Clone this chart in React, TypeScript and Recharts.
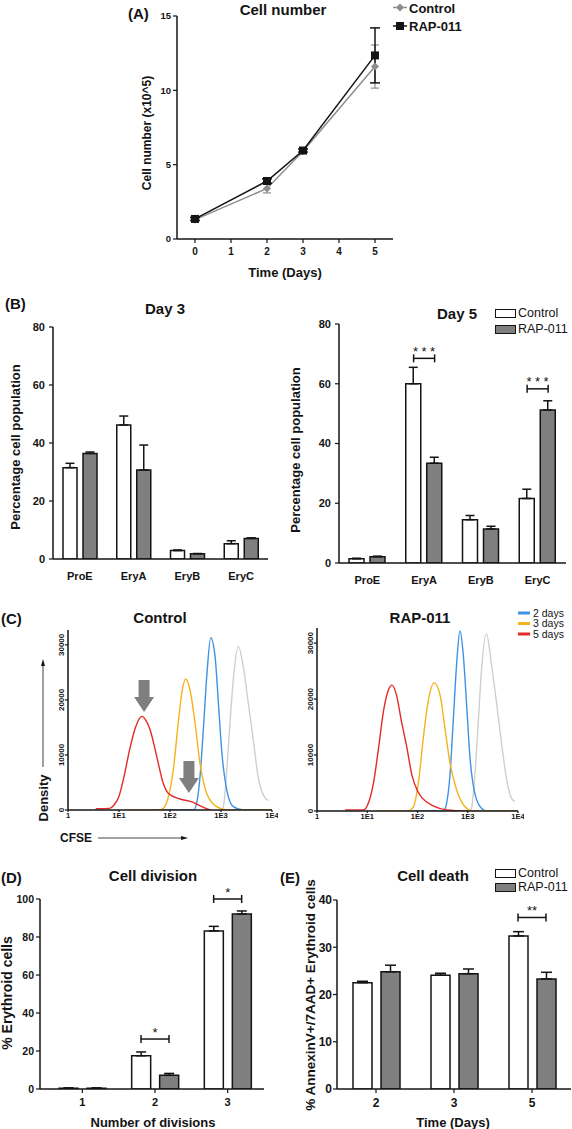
import React from "react";
import {
  LineChart,
  Line,
  BarChart,
  Bar,
  XAxis,
  YAxis,
  ErrorBar,
  ReferenceLine,
  ReferenceDot,
} from "recharts";

const INK = "#141414";
const GREY_BAR = "#7f7f7f";
const CTRL_LINE = "#8d8d8d";
const FONT = '"Liberation Sans", Arial, Helvetica, sans-serif';

// (A) cell number (x10^5)
const growthDays = [0, 2, 3, 5];
const growthControl = [1.3, 3.4, 5.9, 11.6];
const growthControlErr = [0.1, 0.3, 0.1, 1.45];
const growthRap = [1.35, 3.9, 5.95, 12.35];
const growthRapErr = [0.1, 0.15, 0.1, 1.85];

// (B) erythroid stages
const stages = ["ProE", "EryA", "EryB", "EryC"];
const day3Control = [31.5, 46.2, 2.9, 5.3];
const day3ControlErr = [1.5, 3.1, 0.2, 1.0];
const day3Rap = [36.4, 30.7, 1.8, 7.1];
const day3RapErr = [0.5, 8.6, 0.1, 0.2];
const day5Control = [1.4, 60.0, 14.5, 21.6];
const day5ControlErr = [0.2, 5.5, 1.4, 3.1];
const day5Rap = [2.1, 33.4, 11.4, 51.2];
const day5RapErr = [0.2, 2.0, 0.9, 3.1];
const day5Sig = [
  { cat: "EryA", y: 68.5, mark: "***" },
  { cat: "EryC", y: 58.3, mark: "***" },
];

// (C) CFSE histograms, [CFSE, density]
const ctlDay0 = [[1000, 0], [1110, 600], [1300, 7300], [1500, 15800], [1740, 23600], [2180, 29700], [2740, 26000], [3430, 19400], [4300, 12700], [5350, 6000], [6760, 2700], [8480, 1700]];
const ctlDay2 = [[55, 0], [290, 0], [333, 1200], [387, 6000], [450, 14500], [525, 24200], [630, 31300], [765, 27900], [890, 19400], [1030, 10900], [1300, 3600], [1740, 600], [2740, 0], [10000, 0]];
const ctlDay3 = [[15, 0], [60, 0], [74, 300], [93, 2400], [116, 7300], [145, 15800], [170, 21200], [203, 23800], [247, 21800], [310, 15800], [387, 8500], [525, 3000], [825, 600], [1300, 0], [10000, 0]];
const ctlDay5 = [[3.5, 250], [6.5, 300], [8, 900], [10, 2500], [12.5, 6000], [16, 10800], [21, 15000], [28, 17000], [35, 16000], [41, 14500], [55, 9700], [74, 4800], [93, 3000], [157, 2000], [287, 1400], [420, 600], [610, 0]];
const rapDay0 = [[1100, 0], [1190, 500], [1380, 6200], [1620, 15900], [1870, 25000], [2350, 31700], [2960, 26200], [3710, 19600], [4680, 12300], [5890, 5800], [7420, 2300], [8600, 1700]];
const rapDay2 = [[83, 0], [330, 0], [380, 1400], [441, 6200], [513, 15900], [600, 26200], [700, 32200], [813, 28000], [950, 19000], [1100, 9900], [1380, 3200], [1870, 500], [2400, 0], [10000, 0]];
const rapDay3 = [[15.5, 0], [65, 0], [83, 800], [104, 5000], [130, 12900], [163, 19600], [215, 22900], [280, 20800], [353, 14700], [441, 8700], [600, 3800], [875, 800], [1260, 0], [10000, 0]];
const rapDay5 = [[3.6, 200], [8.4, 200], [10.5, 1400], [13.3, 5000], [16.7, 11100], [21, 17800], [26, 21500], [31, 22500], [38, 20800], [48, 16000], [61, 11500], [77, 6500], [100, 3600], [125, 2300], [205, 900], [380, 200], [1000, 0]];
const cfseTicks = [1, 10, 100, 1000, 10000];
const densityTicks = [0, 10000, 20000, 30000];
const ctlArrowX = [31, 235];
const ctlArrowY = [17800, 3100];

// (D) cell division
const divisions = ["1", "2", "3"];
const divControl = [0.4, 17.5, 83.2];
const divControlErr = [0.2, 2.0, 2.4];
const divRap = [0.4, 7.2, 92.1];
const divRapErr = [0.2, 1.0, 1.6];
const divSig = [
  { cat: "2", y: 26.3, mark: "*" },
  { cat: "3", y: 100, mark: "*" },
];

// (E) cell death
const deathDays = ["2", "3", "5"];
const deathControl = [22.5, 24.1, 32.4];
const deathControlErr = [0.3, 0.4, 0.9];
const deathRap = [24.8, 24.4, 23.3];
const deathRapErr = [1.4, 1.0, 1.4];
const deathSig = [{ cat: "5", y: 36.3, mark: "**" }];

const COLORS = { day0: "#cfcfcf", day2: "#3d93e4", day3: "#f5b21a", day5: "#e52a27" };

function Txt({ x, y, size = 13, bold = true, rotate = 0, align = "center", children }: any) {
  const tx = align === "left" ? "0" : align === "right" ? "-100%" : "-50%";
  return (
    <div
      style={{
        position: "absolute",
        left: x,
        top: y,
        transform: `translate(${tx}, -50%) rotate(${rotate}deg)`,
        fontSize: size,
        fontWeight: bold ? 700 : 400,
        lineHeight: 1,
        whiteSpace: "nowrap",
        color: INK,
      }}
    >
      {children}
    </div>
  );
}

const axisLine = { stroke: INK, strokeWidth: 1.5 };
const tickLine = { stroke: INK, strokeWidth: 1.2 };

const DiamondDot = (props: any) => {
  const { cx, cy } = props;
  if (cx == null || cy == null) return null;
  return <path d={`M${cx},${cy - 4}L${cx + 4},${cy}L${cx},${cy + 4}L${cx - 4},${cy}Z`} fill={CTRL_LINE} />;
};

const SquareDot = (props: any) => {
  const { cx, cy } = props;
  if (cx == null || cy == null) return null;
  return <rect x={cx - 4} y={cy - 4} width={8} height={8} fill={INK} />;
};

function GrowthPanel() {
  const x0 = 177, x1 = 393, y0 = 16, y1 = 239, yw = 36, xh = 30, mt = 6, mr = 8;
  const data = growthDays.map((d, i) => ({
    day: d,
    ctl: growthControl[i],
    ctlErr: growthControlErr[i],
    rap: growthRap[i],
    rapErr: growthRapErr[i],
  }));
  return (
    <div style={{ position: "absolute", left: x0 - yw, top: y0 - mt }}>
      <LineChart
        width={x1 - x0 + yw + mr}
        height={y1 - y0 + mt + xh}
        data={data}
        margin={{ top: mt, right: mr, bottom: 0, left: 0 }}
      >
        <XAxis
          dataKey="day"
          type="number"
          domain={[-0.5, 5.5]}
          ticks={[0, 1, 2, 3, 4, 5]}
          allowDataOverflow
          height={xh}
          axisLine={axisLine}
          tickLine={tickLine}
          tickSize={4}
          tickMargin={5}
          tick={{ fill: INK, fontSize: 10, fontWeight: 700 }}
        />
        <YAxis
          domain={[0, 15]}
          ticks={[0, 5, 10, 15]}
          allowDataOverflow
          width={yw}
          axisLine={axisLine}
          tickLine={tickLine}
          tickSize={4}
          tickMargin={2}
          tick={{ fill: INK, fontSize: 9.5, fontWeight: 700 }}
        />
        <Line dataKey="ctl" type="linear" stroke={CTRL_LINE} strokeWidth={1.5} dot={<DiamondDot />} isAnimationActive={false}>
          <ErrorBar dataKey="ctlErr" width={4} stroke={CTRL_LINE} strokeWidth={1.2} direction="y" />
        </Line>
        <Line dataKey="rap" type="linear" stroke={INK} strokeWidth={1.5} dot={<SquareDot />} isAnimationActive={false}>
          <ErrorBar dataKey="rapErr" width={5} stroke={INK} strokeWidth={1.5} direction="y" />
        </Line>
      </LineChart>
    </div>
  );
}

// significance bracket drawn around the band centre of the category it is attached to
const bracketShape = (half: number, mark: string) => (props: any) => {
  const { x1, y1 } = props;
  if (x1 == null || y1 == null) return <g />;
  const l = x1 - half;
  const r = x1 + half;
  return (
    <g>
      <line x1={l} y1={y1} x2={r} y2={y1} stroke={INK} strokeWidth={1.5} />
      <line x1={l} y1={y1 - 4} x2={l} y2={y1 + 4} stroke={INK} strokeWidth={1.5} />
      <line x1={r} y1={y1 - 4} x2={r} y2={y1 + 4} stroke={INK} strokeWidth={1.5} />
      <text
        x={x1 + (mark.length > 2 ? 1.7 : 0)}
        y={y1 - 2.5}
        textAnchor="middle"
        fontSize={13}
        letterSpacing={mark.length > 2 ? 3.5 : 0}
        fill={INK}
      >
        {mark}
      </text>
    </g>
  );
};

function BarPanel(p: any) {
  const { x0, x1, y0, y1, yMax, yTicks, yw, barSize, barGap, padLeft, capW, tickFont, catFont, catTicks } = p;
  const xh = 30, mt = 30, mr = 2;
  const data = p.cats.map((c: string, i: number) => ({
    cat: c,
    ctl: p.ctl[i],
    ctlErr: [0, p.ctlErr[i]],
    rap: p.rap[i],
    rapErr: [0, p.rapErr[i]],
  }));
  const half = (barSize + barGap) / 2;
  return (
    <div style={{ position: "absolute", left: x0 - yw, top: y0 - mt }}>
      <BarChart
        width={x1 - x0 + yw + mr}
        height={y1 - y0 + mt + xh}
        data={data}
        margin={{ top: mt, right: mr, bottom: 0, left: 0 }}
        barSize={barSize}
        barGap={barGap}
      >
        <XAxis
          dataKey="cat"
          height={xh}
          padding={{ left: padLeft, right: 0 }}
          axisLine={axisLine}
          tickLine={catTicks ? tickLine : false}
          tickSize={4}
          tickMargin={catTicks ? 5 : 9}
          tick={{ fill: INK, fontSize: catFont, fontWeight: 700 }}
        />
        <YAxis
          domain={[0, yMax]}
          ticks={yTicks}
          allowDataOverflow
          width={yw}
          axisLine={axisLine}
          tickLine={tickLine}
          tickSize={4}
          tickMargin={p.tickMargin}
          tick={{ fill: INK, fontSize: tickFont, fontWeight: 700 }}
        />
        <Bar dataKey="ctl" fill="#ffffff" stroke={INK} strokeWidth={1.5} isAnimationActive={false}>
          <ErrorBar dataKey="ctlErr" width={capW} stroke={INK} strokeWidth={1.5} direction="y" />
        </Bar>
        <Bar dataKey="rap" fill={GREY_BAR} stroke={INK} strokeWidth={1.5} isAnimationActive={false}>
          <ErrorBar dataKey="rapErr" width={capW} stroke={INK} strokeWidth={1.5} direction="y" />
        </Bar>
        {p.sig.map((s: any, i: number) => (
          <ReferenceLine
            key={`sig${i}`}
            segment={[{ x: s.cat, y: s.y }, { x: s.cat, y: s.y }]}
            ifOverflow="visible"
            shape={bracketShape(half, s.mark)}
          />
        ))}
      </BarChart>
    </div>
  );
}

const DensityTick = (props: any) => {
  const { x, y, payload } = props;
  return (
    <text x={x} y={y} transform={`rotate(-90 ${x} ${y})`} textAnchor="middle" fontSize={8} fontWeight={700} fill={INK}>
      {payload.value}
    </text>
  );
};

const cfseLabel = (v: number) => (v === 1 ? "1" : "1E" + Math.round(Math.log10(v)));

const ArrowShape = (props: any) => {
  const { cx, cy } = props;
  if (cx == null || cy == null) return <g />;
  const d = `M${cx - 5.5},${cy - 32}L${cx + 5.5},${cy - 32}L${cx + 5.5},${cy - 15}L${cx + 10},${cy - 15}L${cx},${cy}L${cx - 10},${cy - 15}L${cx - 5.5},${cy - 15}Z`;
  return <path d={d} fill={GREY_BAR} />;
};

function HistPanel({ x0, x1, y0, y1, traces, arrows }: any) {
  const yw = 30, xh = 20, mt = 4, mr = 6;
  return (
    <div style={{ position: "absolute", left: x0 - yw, top: y0 - mt }}>
      <LineChart width={x1 - x0 + yw + mr} height={y1 - y0 + mt + xh} margin={{ top: mt, right: mr, bottom: 0, left: 0 }}>
        <XAxis
          dataKey="x"
          type="number"
          scale="log"
          domain={[1, 10000]}
          ticks={cfseTicks}
          tickFormatter={cfseLabel}
          allowDataOverflow
          height={xh}
          axisLine={axisLine}
          tickLine={tickLine}
          tickSize={2}
          tickMargin={1}
          tick={{ fill: INK, fontSize: 7.5, fontWeight: 700 }}
        />
        <YAxis
          type="number"
          domain={[0, 32700]}
          ticks={densityTicks}
          allowDataOverflow
          width={yw}
          axisLine={axisLine}
          tickLine={tickLine}
          tickSize={3}
          tickMargin={1}
          tick={<DensityTick />}
        />
        {traces.map((t: any, i: number) => (
          <Line
            key={i}
            data={t.points.map(([x, y]: number[]) => ({ x, y }))}
            dataKey="y"
            type="monotone"
            stroke={t.color}
            strokeWidth={1.4}
            dot={false}
            isAnimationActive={false}
          />
        ))}
        {arrows &&
          arrows.x.map((x: number, i: number) => (
            <ReferenceDot key={`a${i}`} x={x} y={arrows.y[i]} r={0} ifOverflow="visible" shape={ArrowShape} />
          ))}
      </LineChart>
    </div>
  );
}

function LegendBoxes({ x, y1, y2, textX, size }: any) {
  return (
    <>
      <div style={{ position: "absolute", left: x, top: y1 - 4, width: 19, height: 7, border: `1px solid ${INK}`, background: "#fff" }} />
      <div style={{ position: "absolute", left: x, top: y2 - 4, width: 19, height: 7, border: `1px solid ${INK}`, background: GREY_BAR }} />
      <Txt x={textX} y={y1} size={size} bold={false} align="left">Control</Txt>
      <Txt x={textX} y={y2} size={size} bold={false} align="left">RAP-011</Txt>
    </>
  );
}

export default function App() {
  const ctlTraces = [
    { points: ctlDay0, color: COLORS.day0 },
    { points: ctlDay2, color: COLORS.day2 },
    { points: ctlDay3, color: COLORS.day3 },
    { points: ctlDay5, color: COLORS.day5 },
  ];
  const rapTraces = [
    { points: rapDay0, color: COLORS.day0 },
    { points: rapDay2, color: COLORS.day2 },
    { points: rapDay3, color: COLORS.day3 },
    { points: rapDay5, color: COLORS.day5 },
  ];
  return (
    <div
      style={{
        position: "absolute",
        left: 0,
        top: 0,
        width: 572,
        height: 1129,
        background: "#fff",
        fontFamily: FONT,
        color: INK,
        overflow: "hidden",
      }}
    >
      {/* (A) */}
      <Txt x={128} y={13} size={15} align="left">(A)</Txt>
      <Txt x={283} y={9} size={15}>Cell number</Txt>
      <svg style={{ position: "absolute", left: 392, top: 0 }} width={16} height={34}>
        <line x1={1} y1={7.5} x2={15} y2={7.5} stroke={CTRL_LINE} strokeWidth={1.5} />
        <path d="M8,3.5L12,7.5L8,11.5L4,7.5Z" fill={CTRL_LINE} />
        <line x1={1} y1={26} x2={15} y2={26} stroke={INK} strokeWidth={1.5} />
        <rect x={4} y={22} width={8} height={8} fill={INK} />
      </svg>
      <Txt x={409} y={7.5} size={13} align="left">Control</Txt>
      <Txt x={409} y={26} size={13} align="left">RAP-011</Txt>
      <Txt x={147} y={133} size={12} rotate={-90}>Cell number (x10^5)</Txt>
      <Txt x={285} y={272} size={13}>Time (Days)</Txt>
      <GrowthPanel />

      {/* (B) */}
      <Txt x={5} y={303} size={15} align="left">(B)</Txt>
      <Txt x={165} y={308} size={15}>Day 3</Txt>
      <Txt x={457} y={313} size={15}>Day 5</Txt>
      <Txt x={15} y={447} size={13} rotate={-90}>Percentage cell population</Txt>
      <Txt x={295} y={450} size={13} rotate={-90}>Percentage cell population</Txt>
      <LegendBoxes x={495} y1={313} y2={329} textX={518} size={12.5} />
      <BarPanel
        cats={stages}
        ctl={day3Control}
        ctlErr={day3ControlErr}
        rap={day3Rap}
        rapErr={day3RapErr}
        sig={[]}
        x0={53}
        x1={268}
        y0={327}
        y1={559}
        yMax={80}
        yTicks={[0, 20, 40, 60, 80]}
        yw={40}
        barSize={14}
        barGap={6}
        padLeft={0}
        capW={4.5}
        tickFont={11}
        catFont={11}
        tickMargin={4}
        catTicks={false}
      />
      <BarPanel
        cats={stages}
        ctl={day5Control}
        ctlErr={day5ControlErr}
        rap={day5Rap}
        rapErr={day5RapErr}
        sig={day5Sig}
        x0={339}
        x1={566}
        y0={324}
        y1={563}
        yMax={80}
        yTicks={[0, 20, 40, 60, 80]}
        yw={40}
        barSize={15}
        barGap={6}
        padLeft={0}
        capW={4.5}
        tickFont={11}
        catFont={11}
        tickMargin={4}
        catTicks={false}
      />

      {/* (C) */}
      <Txt x={1} y={618} size={15} align="left">(C)</Txt>
      <Txt x={160} y={617} size={15}>Control</Txt>
      <Txt x={420} y={617} size={15}>RAP-011</Txt>
      <Txt x={43} y={798} size={13} rotate={-90}>Density</Txt>
      <Txt x={60} y={838} size={12} align="left">CFSE</Txt>
      <svg style={{ position: "absolute", left: 0, top: 0, pointerEvents: "none" }} width={572} height={1129}>
        <line x1={43} y1={767} x2={43} y2={665} stroke={INK} strokeWidth={0.8} />
        <path d="M43,659L45,666L41,666Z" fill={INK} />
        <line x1={98} y1={838} x2={182} y2={838} stroke={INK} strokeWidth={0.8} />
        <path d="M188,838L181,836L181,840Z" fill={INK} />
        <rect x={518} y={611.5} width={12} height={3} fill={COLORS.day2} />
        <rect x={518} y={622} width={12} height={3} fill={COLORS.day3} />
        <rect x={518} y={632.5} width={12} height={3} fill={COLORS.day5} />
      </svg>
      <Txt x={533} y={612.5} size={10.5} bold={false} align="left">2 days</Txt>
      <Txt x={533} y={623} size={10.5} bold={false} align="left">3 days</Txt>
      <Txt x={533} y={633.5} size={10.5} bold={false} align="left">5 days</Txt>
      <HistPanel x0={68} x1={272} y0={630} y1={810} traces={ctlTraces} arrows={{ x: ctlArrowX, y: ctlArrowY }} />
      <HistPanel x0={317} x1={518} y0={628} y1={811} traces={rapTraces} />

      {/* (D) */}
      <Txt x={1} y={877} size={15} align="left">(D)</Txt>
      <Txt x={153} y={875} size={15}>Cell division</Txt>
      <Txt x={7} y={993} size={14} rotate={-90}>% Erythroid cells</Txt>
      <Txt x={153} y={1122} size={13}>Number of divisions</Txt>
      <BarPanel
        cats={divisions}
        ctl={divControl}
        ctlErr={divControlErr}
        rap={divRap}
        rapErr={divRapErr}
        sig={divSig}
        x0={40}
        x1={264}
        y0={899}
        y1={1089}
        yMax={100}
        yTicks={[0, 20, 40, 60, 80, 100]}
        yw={30}
        barSize={19}
        barGap={9}
        padLeft={6}
        capW={5}
        tickFont={10.5}
        catFont={11}
        tickMargin={2}
        catTicks={true}
      />

      {/* (E) */}
      <Txt x={280} y={877} size={15} align="left">(E)</Txt>
      <Txt x={433} y={875} size={15}>Cell death</Txt>
      <LegendBoxes x={495} y1={873} y2={887} textX={518} size={12.5} />
      <Txt x={311} y={995} size={13.5} rotate={-90}>% AnnexinV+/7AAD+ Erythroid cells</Txt>
      <Txt x={453} y={1122} size={13}>Time (Days)</Txt>
      <BarPanel
        cats={deathDays}
        ctl={deathControl}
        ctlErr={deathControlErr}
        rap={deathRap}
        rapErr={deathRapErr}
        sig={deathSig}
        x0={337}
        x1={571}
        y0={900}
        y1={1089}
        yMax={40}
        yTicks={[0, 10, 20, 30, 40]}
        yw={22}
        barSize={19}
        barGap={9}
        padLeft={0}
        capW={5.5}
        tickFont={12}
        catFont={12}
        tickMargin={1}
        catTicks={true}
      />
    </div>
  );
}
